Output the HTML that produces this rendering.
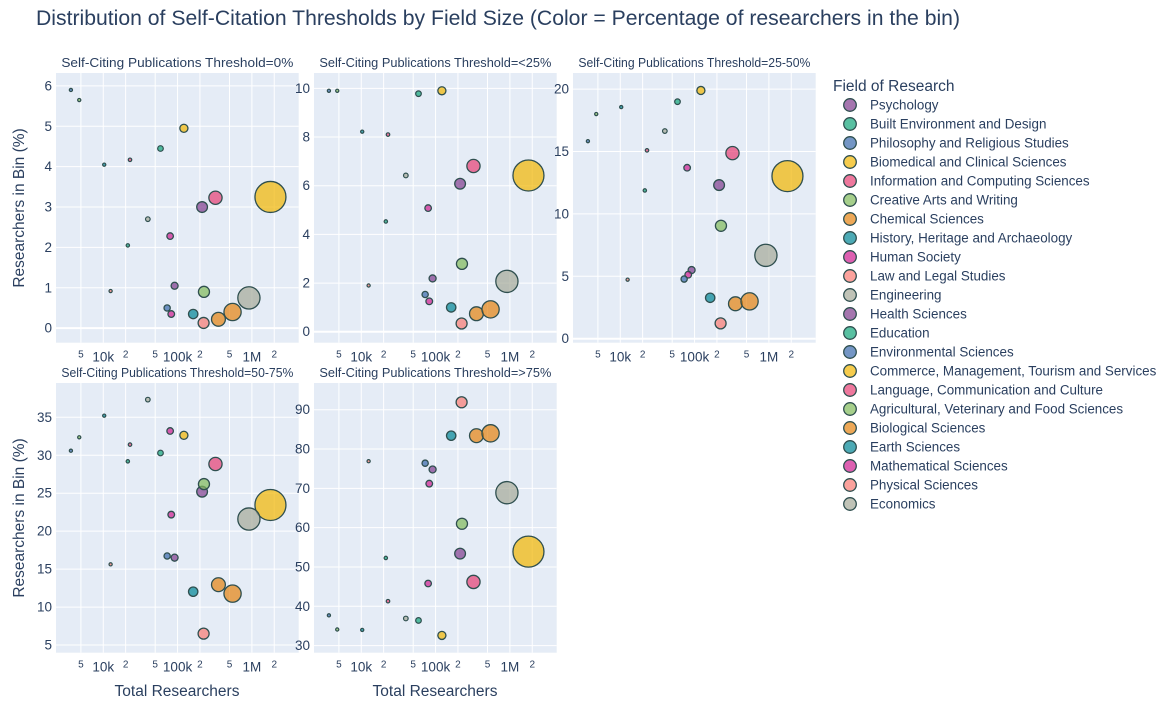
<!DOCTYPE html>
<html><head><meta charset="utf-8"><style>
html,body{margin:0;padding:0;background:#fff;}
svg{display:block;font-family:"Liberation Sans",Arial,sans-serif;}
</style></head><body>
<svg id="chart" width="1170" height="711" viewBox="0 0 1170 711" xmlns="http://www.w3.org/2000/svg">
<rect width="1170" height="711" fill="#fff"/>
<text x="36" y="25" font-size="21" fill="#2a3f5f" textLength="924" lengthAdjust="spacingAndGlyphs">Distribution of Self-Citation Thresholds by Field Size (Color = Percentage of researchers in the bin)</text>
<g id="panels"></g>
<g id="legend"></g>
</svg>
<script>
const fields = ["Psychology","Built Environment and Design","Philosophy and Religious Studies","Biomedical and Clinical Sciences","Information and Computing Sciences","Creative Arts and Writing","Chemical Sciences","History, Heritage and Archaeology","Human Society","Law and Legal Studies","Engineering","Health Sciences","Education","Environmental Sciences","Commerce, Management, Tourism and Services","Language, Communication and Culture","Agricultural, Veterinary and Food Sciences","Biological Sciences","Earth Sciences","Mathematical Sciences","Physical Sciences","Economics"];
const totals = [91200,21400,3670,1778000,323600,4750,354800,10300,82200,12560,912000,213800,58900,72400,121600,22900,226500,549500,162200,79400,224000,39800];
const thresholds = ["0%","<25%","25-50%","50-75%",">75%"];
const pct0 = [1.05,2.05,5.9,3.25,3.23,5.65,0.22,4.05,0.35,0.92,0.75,3.0,4.45,0.5,4.95,4.17,0.9,0.4,0.35,2.28,0.13,2.7];
const pct1 = [2.19,4.53,9.9,6.42,6.81,9.9,0.74,8.22,1.25,1.9,2.07,6.08,9.78,1.53,9.9,8.1,2.79,0.92,1.0,5.08,0.34,6.42];
const pct2 = [5.5,11.88,15.83,13.03,14.87,18.0,2.8,18.56,5.13,4.73,6.68,12.31,18.99,4.78,19.89,15.09,9.05,2.99,3.28,13.7,1.23,16.64];
const pct3 = [16.51,29.2,30.6,23.45,28.85,32.37,12.95,35.22,22.18,15.63,21.6,25.2,30.3,16.73,32.63,31.4,26.2,11.77,12.03,33.2,6.5,37.33];
const pct4 = [74.8,52.3,37.7,53.9,46.2,34.1,83.4,34.0,71.2,76.9,68.9,53.4,36.4,76.4,32.6,41.3,61.0,84.0,83.4,45.8,91.9,36.9];
const xTickValues = [5000,10000,20000,50000,100000,200000,500000,1000000,2000000];
const xTickLabels = ["5","10k","2","5","100k","2","5","1M","2"];
const yTicks0 = [0,1,2,3,4,5,6];
const yTicks1 = [0,2,4,6,8,10];
const yTicks2 = [0,5,10,15,20];
const yTicks3 = [5,10,15,20,25,30,35];
const yTicks4 = [30,40,50,60,70,80,90];

const palette = ["rgb(127,60,141)","rgb(17,165,121)","rgb(57,105,172)","rgb(242,183,1)","rgb(231,63,116)","rgb(128,186,90)","rgb(230,131,16)","rgb(0,134,149)","rgb(207,28,144)","rgb(249,123,114)","rgb(165,170,153)"];
const NS = "http://www.w3.org/2000/svg";
function mk(tag, attrs, parent){const e=document.createElementNS(NS,tag);for(const k in attrs)e.setAttribute(k,attrs[k]);if(parent)parent.appendChild(e);return e;}

const panelsG = document.getElementById("panels");
const series = [pct0,pct1,pct2,pct3,pct4];
const yTickSets = [yTicks0,yTicks1,yTicks2,yTicks3,yTicks4];
const layout = [
  {x:56,y:73,ymin:-0.36,ymax:6.32},
  {x:314,y:73,ymin:-0.45,ymax:10.63},
  {x:573,y:73,ymin:-0.32,ymax:21.29},
  {x:56,y:383,ymin:3.99,ymax:39.52},
  {x:314,y:383,ymin:28.2,ymax:96.8}
];
const PW = 242.7, PH = 269.7, XMIN = 3.364, XMAX = 6.63;
const maxTotal = Math.max(...totals);

layout.forEach((L, p) => {
  const g = mk("g", {}, panelsG);
  
  
  const xs = v => L.x + (Math.log10(v) - XMIN) / (XMAX - XMIN) * PW;
  const ys = v => L.y + PH - (v - L.ymin) / (L.ymax - L.ymin) * PH;
  const bg = mk("rect", {x:L.x, y:L.y, width:PW, height:PH, fill:"#E5ECF6"}, g);
  
  
  const clipId = "clip" + p;
  const cp = mk("clipPath", {id:clipId}, g);
  mk("rect", {x:L.x, y:L.y, width:PW, height:PH}, cp);
  xTickValues.forEach((v, i) => {
    const x = xs(v);
    const gl = mk("line", {x1:x, x2:x, y1:L.y, y2:L.y+PH, stroke:"#fff", "stroke-width":1}, g);
    
    
    const big = xTickLabels[i].length > 1;
    const t = mk("text", {x:x, y:L.y+PH+(big?19:15), "text-anchor":"middle", "font-size":big?13.5:10, fill:"#2a3f5f"}, g);
    t.textContent = xTickLabels[i];
    
    
  });
  yTickSets[p].forEach(v => {
    const y = ys(v);
    const gl = mk("line", {x1:L.x, x2:L.x+PW, y1:y, y2:y, stroke:"#fff", "stroke-width":v===0?2:1}, g);
    
    
    const t = mk("text", {x:L.x-4, y:y+4.5, "text-anchor":"end", "font-size":13.5, fill:"#2a3f5f"}, g);
    t.textContent = String(v);
    
    
  });
  const st = mk("text", {x:L.x+PW/2, y:L.y-6, "text-anchor":"middle", "font-size":12.5, fill:"#2a3f5f", textLength:232, lengthAdjust:"spacingAndGlyphs"}, g);
  st.textContent = "Self-Citing Publications Threshold=" + thresholds[p];
  
  
  const mg = mk("g", {"clip-path":"url(#"+clipId+")"}, g);
  const vals = series[p];
  fields.forEach((f, i) => {
    const r = Math.max(1.6, 15.5 * Math.sqrt(totals[i] / maxTotal));
    const c = mk("circle", {cx:xs(totals[i]), cy:ys(vals[i]), r:r, fill:palette[i%11], "fill-opacity":0.7, stroke:"#2F4F4F", "stroke-width":r>3?1.3:1.2}, mg);
    
    
  });
});

[[24,208],[24,518]].forEach(([x,y]) => {
  const t = mk("text", {x:x, y:y, transform:"rotate(-90 "+x+" "+y+")", "text-anchor":"middle", "font-size":15.5, fill:"#2a3f5f"}, panelsG);
  t.textContent = "Researchers in Bin (%)";
  
  
});
[177,435].forEach(x => {
  const t = mk("text", {x:x, y:696, "text-anchor":"middle", "font-size":15.5, fill:"#2a3f5f"}, panelsG);
  t.textContent = "Total Researchers";
  
  
});

const lg = document.getElementById("legend");
const lt = mk("text", {x:833, y:91, "font-size":15.5, fill:"#2a3f5f"}, lg);
lt.textContent = "Field of Research";


fields.forEach((f, i) => {
  const y = 105 + i * 19;
  const eg = mk("g", {}, lg);
  
  
  mk("circle", {cx:850, cy:y, r:6.3, fill:palette[i%11], "fill-opacity":0.7, stroke:"#2F4F4F", "stroke-width":1.3}, eg);
  const t = mk("text", {x:870, y:y+4.5, "font-size":13.4, fill:"#2a3f5f"}, eg);
  t.textContent = f;
});
</script>
</body></html>
